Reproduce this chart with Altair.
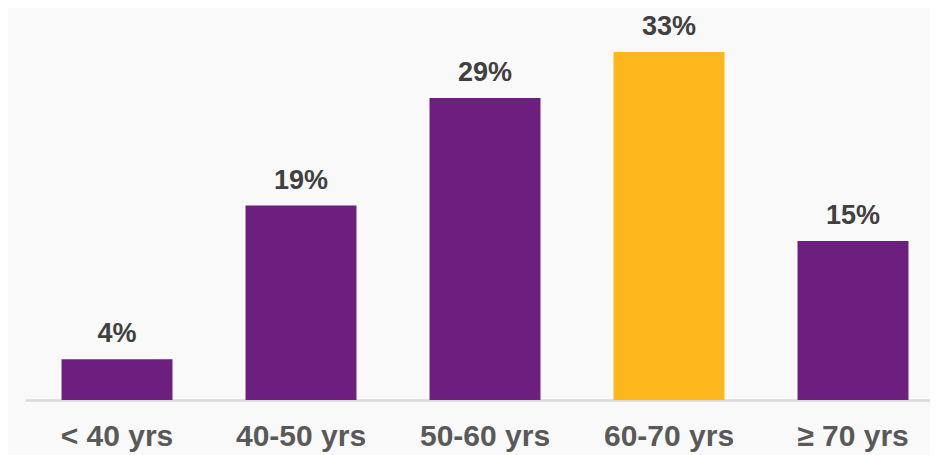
import altair as alt
import pandas as pd

categories = ["< 40 yrs", "40-50 yrs", "50-60 yrs", "60-70 yrs", "≥ 70 yrs"]
values = [3.9, 18.6, 28.9, 33.3, 15.2]
labels = ["4%", "19%", "29%", "33%", "15%"]
colors = ["#6D1F7F", "#6D1F7F", "#6D1F7F", "#FDB71C", "#6D1F7F"]

df = pd.DataFrame({"cat": categories, "val": values, "lab": labels, "col": colors})

x = alt.X("cat:N", sort=categories, title=None,
          scale=alt.Scale(range=[0, 920], paddingInner=0.397, paddingOuter=0.1985),
          axis=alt.Axis(labelAngle=0, ticks=False, labelPadding=21, labelFontSize=30,
                        labelFont="Liberation Sans", labelFontWeight="bold",
                        labelColor="#595959", domainColor="#d9d9d9", domainWidth=2.5,
                        grid=False))
y = alt.Y("val:Q", title=None, scale=alt.Scale(domain=[0, 37.5], nice=False), axis=None)

bars = alt.Chart(df).mark_bar().encode(x=x, y=y, color=alt.Color("col:N", scale=None))
text = alt.Chart(df).mark_text(dy=-17, baseline="alphabetic", fontSize=27,
                                font="Liberation Sans", fontWeight="bold",
                                color="#404040").encode(x=x, y=y, text="lab:N")

chart = (bars + text).properties(
    width=905, height=392,
    autosize=alt.AutoSizeParams(type="none"),
    padding={"left": 17, "top": 0, "right": 0, "bottom": 55},
    background="#f9f9f9",
).configure_view(stroke=None)

chart.save("out.html", embed_options={"renderer": "svg", "actions": False})
